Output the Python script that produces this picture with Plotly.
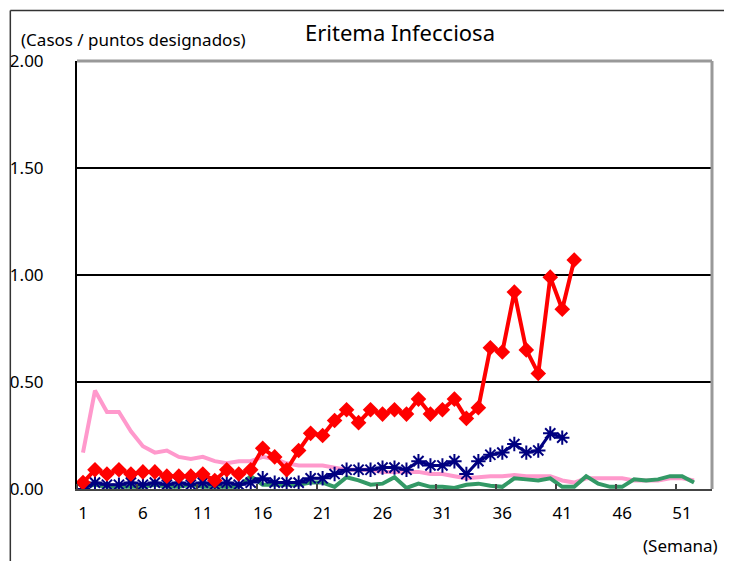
import plotly.graph_objects as go

weeks = list(range(1, 54))

# current year (red diamonds)
red_vals = [0.03, 0.09, 0.07, 0.09, 0.07, 0.08, 0.08, 0.06, 0.06, 0.06,
            0.07, 0.04, 0.09, 0.07, 0.09, 0.19, 0.15, 0.09, 0.18, 0.26,
            0.25, 0.32, 0.37, 0.31, 0.37, 0.35, 0.37, 0.35, 0.42, 0.35,
            0.37, 0.42, 0.33, 0.38, 0.66, 0.64, 0.92, 0.65, 0.54, 0.99,
            0.84, 1.07]

# previous year (navy asterisks)
blue_vals = [0.00, 0.03, 0.02, 0.02, 0.03, 0.02, 0.03, 0.02, 0.03, 0.02,
             0.03, 0.02, 0.03, 0.02, 0.03, 0.05, 0.03, 0.03, 0.03, 0.05,
             0.05, 0.07, 0.09, 0.09, 0.09, 0.10, 0.10, 0.09, 0.13, 0.11,
             0.11, 0.13, 0.07, 0.13, 0.16, 0.17, 0.21, 0.17, 0.18, 0.26,
             0.24]

# pink series
pink_vals = [0.17, 0.46, 0.36, 0.36, 0.27, 0.20, 0.17, 0.18, 0.15, 0.14,
             0.15, 0.13, 0.12, 0.13, 0.13, 0.15, 0.14, 0.12, 0.11, 0.11,
             0.11, 0.10, 0.09, 0.09, 0.09, 0.08, 0.08, 0.08, 0.08, 0.07,
             0.07, 0.06, 0.05, 0.055, 0.06, 0.06, 0.065, 0.06, 0.06, 0.06,
             0.04, 0.03, 0.05, 0.05, 0.05, 0.05, 0.04, 0.04, 0.04, 0.05,
             0.05, 0.04]

# green series
green_vals = [0.01, 0.02, 0.01, 0.01, 0.01, 0.01, 0.02, 0.01, 0.01, 0.02,
              0.01, 0.01, 0.01, 0.01, 0.06, 0.02, 0.02, 0.02, 0.02, 0.03,
              0.03, 0.01, 0.055, 0.04, 0.02, 0.025, 0.055, 0.005, 0.025, 0.01,
              0.01, 0.005, 0.02, 0.025, 0.015, 0.01, 0.05, 0.045, 0.04, 0.05,
              0.01, 0.01, 0.06, 0.025, 0.01, 0.01, 0.045, 0.04, 0.045, 0.06,
              0.06, 0.03]

x_labels = [1, 6, 11, 16, 21, 26, 31, 36, 41, 46, 51]
y_ticks = [0, 0.5, 1.0, 1.5, 2.0]

font = "Noto Sans"

fig = go.Figure()
fig.add_trace(go.Scatter(x=weeks[:len(pink_vals)], y=pink_vals, mode="lines",
                         line=dict(color="#ff99cc", width=4), showlegend=False))
fig.add_trace(go.Scatter(x=weeks[:len(green_vals)], y=green_vals, mode="lines",
                         line=dict(color="#339966", width=4), showlegend=False))
fig.add_trace(go.Scatter(x=weeks[:len(blue_vals)], y=blue_vals, mode="lines+markers",
                         line=dict(color="#000080", width=3),
                         marker=dict(symbol="asterisk-open", size=12,
                                     line=dict(color="#000080", width=2)),
                         showlegend=False))
fig.add_trace(go.Scatter(x=weeks[:len(red_vals)], y=red_vals, mode="lines+markers",
                         line=dict(color="#ff0000", width=4),
                         marker=dict(symbol="diamond", size=12, color="#ff0000"),
                         showlegend=False))

# page has an 8px body margin, so the figure is sized to fit inside it
fig.update_layout(
    width=716, height=553,
    margin=dict(l=69, r=12, t=53, b=72),
    paper_bgcolor="white", plot_bgcolor="white",
    font=dict(family=font, size=17, color="black"),
    xaxis=dict(range=[0.5, 53.5], tickmode="array", tickvals=x_labels,
               ticktext=[str(v) for v in x_labels], ticks="",
               showgrid=False, zeroline=False, showline=True,
               linecolor="#444444", linewidth=2, mirror=False,
               ticklabelstandoff=8, automargin=False,
               minor=dict(tick0=0.5, dtick=5, ticks="inside", ticklen=5,
                          tickcolor="#444444", tickwidth=1.5, showgrid=False)),
    yaxis=dict(range=[0, 2.0], tickmode="array", tickvals=y_ticks,
               ticktext=["%.2f" % v for v in y_ticks], ticks="",
               showgrid=True, gridcolor="black", gridwidth=1.5,
               zeroline=False, showline=True, linecolor="black", linewidth=2,
               ticklabelstandoff=28, automargin=False),
    annotations=[
        dict(text="Eritema Infecciosa", xref="paper", yref="paper",
             x=0.509, y=1.068, xanchor="center", yanchor="middle",
             showarrow=False, font=dict(size=22)),
        dict(text="(Casos / puntos designados)", xref="paper", yref="paper",
             x=-0.092, y=1.05, xanchor="left", yanchor="middle",
             showarrow=False, font=dict(size=17)),
        dict(text="(Semana)", xref="paper", yref="paper",
             x=1.013, y=-0.131, xanchor="right", yanchor="middle",
             showarrow=False, font=dict(size=17)),
    ],
    shapes=[
        # gray frame on top/right of plot area
        dict(type="line", xref="paper", yref="paper", x0=0, x1=1, y0=1, y1=1,
             line=dict(color="#999999", width=3)),
        dict(type="line", xref="paper", yref="paper", x0=1, x1=1, y0=0, y1=1,
             line=dict(color="#999999", width=3)),
        # outer chart border (left and top edges)
        dict(type="line", xref="paper", yref="paper",
             x0=-0.105, x1=-0.105, y0=1.118, y1=-0.17,
             line=dict(color="#333333", width=1.5)),
        dict(type="line", xref="paper", yref="paper",
             x0=-0.105, x1=1.03, y0=1.118, y1=1.118,
             line=dict(color="#333333", width=1.5)),
    ],
)

fig.write_html("out.html")
